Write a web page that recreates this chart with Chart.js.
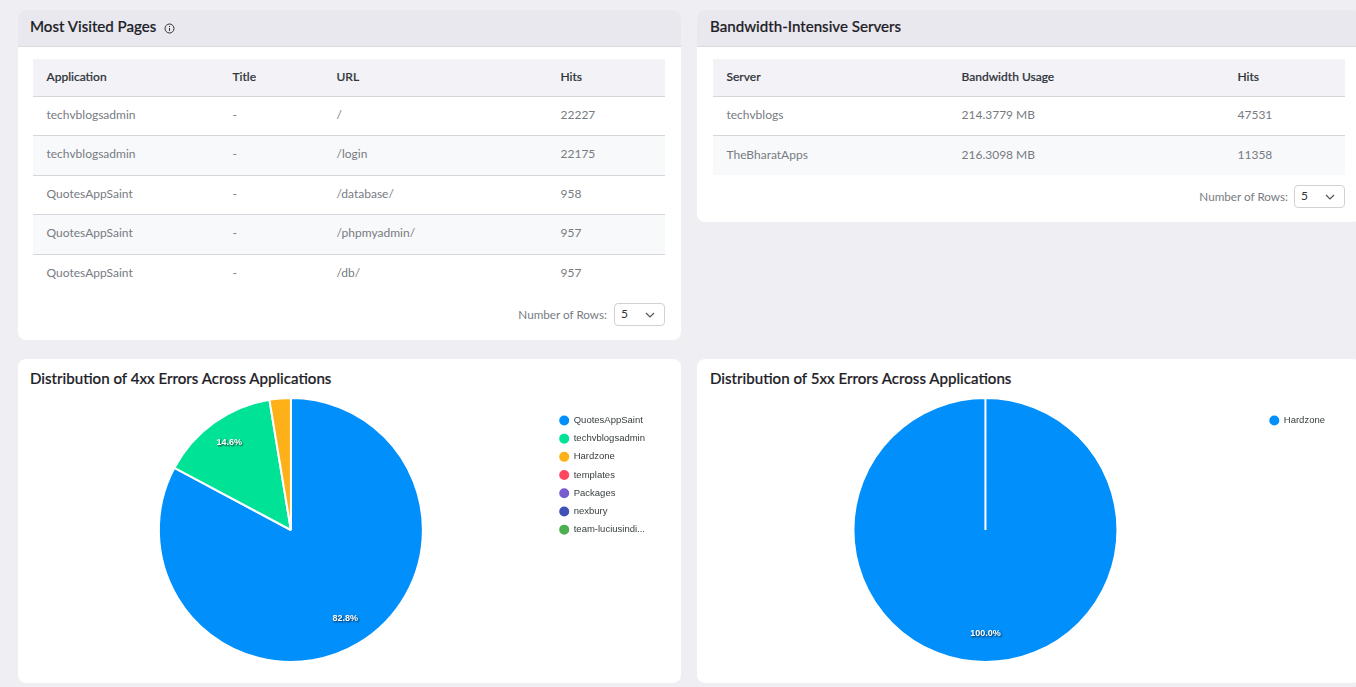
<!DOCTYPE html>
<html lang="en">
<head>
<meta charset="UTF-8" />
<title>Dashboard</title>
<script src="https://cdn.jsdelivr.net/npm/chart.js"></script>
<style>
  html, body { margin: 0; padding: 0; width: 1356px; height: 687px; overflow: hidden; background: #eeeef3; font-family: Lato, Arial, sans-serif; }
  .card { position: absolute; background: #fff; border-radius: 8px; overflow: hidden; }
  .card-head { height: 36px; background: #e9e8ee; border-bottom: 1px solid #d9d9de; }
  .card-title { position: absolute; top: 8px; font-size: 15.1px; font-weight: 500; color: #1d2127; white-space: nowrap; -webkit-text-stroke: 0.2px #1d2127; }
  table { position: absolute; top: 49px; border-collapse: collapse; table-layout: fixed; font-size: 12px; color: #777b82; }
  th { height: 37px; background: #f2f2f7; color: #30343a; font-weight: 500; text-align: left; padding: 0 0 2px 13.5px; box-sizing: border-box; border-bottom: 1px solid #d4d6db; -webkit-text-stroke: 0.2px #30343a; }
  td { height: 39.5px; padding: 0 0 3px 13.5px; box-sizing: border-box; border-bottom: 1px solid #d4d6db; }
  tr:nth-child(even) td { background: #f8f9fb; }
  tr:last-child td { border-bottom: none; }
  .rows-label { position: absolute; font-size: 11.7px; color: #777b82; white-space: nowrap; }
  .rows-select { position: absolute; width: 49px; height: 21px; border: 1px solid #d0d2d8; border-radius: 4px; font-size: 12px; color: #30343a; line-height: 20px; text-indent: 6px; }
  .rows-select svg { position: absolute; right: 9px; top: 8px; }
  canvas { position: absolute; }
</style>
</head>
<body>

<div class="card" style="left:18px;top:10px;width:663px;height:330px">
  <div class="card-head"></div>
  <div class="card-title" style="left:12px;top:7px">Most Visited Pages
    <svg width="11" height="11" viewBox="0 0 11 11" style="margin-left:4px;vertical-align:-2px"><circle cx="5.5" cy="5.5" r="4.5" fill="none" stroke="#333" stroke-width="1"/><path d="M5.5 5v3M5.5 3v1" stroke="#333" stroke-width="1"/></svg>
  </div>
  <table id="pagesTable" style="left:15px;width:632px"></table>
  <div class="rows-label" style="right:74px;top:297px">Number of Rows:</div>
  <div class="rows-select" style="left:596px;top:293px">5<svg width="10" height="6" viewBox="0 0 10 6"><path d="M1 1l4 4 4-4" fill="none" stroke="#555" stroke-width="1.2"/></svg></div>
</div>

<div class="card" style="left:697px;top:10px;width:664px;height:212px">
  <div class="card-head"></div>
  <div class="card-title" style="left:13px;top:7px">Bandwidth-Intensive Servers</div>
  <table id="serversTable" style="left:16px;width:632px"></table>
  <div class="rows-label" style="right:73px;top:179px">Number of Rows:</div>
  <div class="rows-select" style="left:597px;top:175px">5<svg width="10" height="6" viewBox="0 0 10 6"><path d="M1 1l4 4 4-4" fill="none" stroke="#555" stroke-width="1.2"/></svg></div>
</div>

<div class="card" style="left:18px;top:359px;width:663px;height:324px">
  <div class="card-title" style="left:12px;top:10px">Distribution of 4xx Errors Across Applications</div>
  <canvas id="chart4xx" style="left:0;top:33px"></canvas>
</div>

<div class="card" style="left:697px;top:359px;width:664px;height:324px">
  <div class="card-title" style="left:13px;top:10px">Distribution of 5xx Errors Across Applications</div>
  <canvas id="chart5xx" style="left:0;top:33px"></canvas>
</div>

<script>
const pageCols = ["Application", "Title", "URL", "Hits"];
const pageWidths = [186, 104, 224, 118];
const pageApps = ["techvblogsadmin", "techvblogsadmin", "QuotesAppSaint", "QuotesAppSaint", "QuotesAppSaint"];
const pageTitles = ["-", "-", "-", "-", "-"];
const pageUrls = ["/", "/login", "/database/", "/phpmyadmin/", "/db/"];
const pageHits = [22227, 22175, 958, 957, 957];

const serverCols = ["Server", "Bandwidth Usage", "Hits"];
const serverWidths = [235, 276, 121];
const serverNames = ["techvblogs", "TheBharatApps"];
const serverUsage = ["214.3779 MB", "216.3098 MB"];
const serverHits = [47531, 11358];

const labels4xx = ["QuotesAppSaint", "techvblogsadmin", "Hardzone", "templates", "Packages", "nexbury", "team-luciusindi..."];
const values4xx = [82.8, 14.6, 2.6, 0, 0, 0, 0];
const labels5xx = ["Hardzone"];
const values5xx = [100];
const palette = ["#008ffb", "#00e396", "#feb019", "#ff4560", "#775dd0", "#3f51b5", "#4caf50"];

function fillTable(id, cols, widths, columns) {
  const table = document.getElementById(id);
  let html = "<colgroup>" + widths.map(w => `<col style="width:${w}px">`).join("") + "</colgroup>";
  html += "<thead><tr>" + cols.map(c => `<th>${c}</th>`).join("") + "</tr></thead><tbody>";
  columns[0].forEach((_, r) => {
    html += "<tr>" + columns.map(c => `<td>${c[r]}</td>`).join("") + "</tr>";
  });
  table.innerHTML = html + "</tbody>";
}
fillTable("pagesTable", pageCols, pageWidths, [pageApps, pageTitles, pageUrls, pageHits]);
fillTable("serversTable", serverCols, serverWidths, [serverNames, serverUsage, serverHits]);

// percent labels inside the big slices, same look as the dashboard
const sliceLabels = {
  id: "sliceLabels",
  afterDatasetsDraw(chart) {
    const ctx = chart.ctx;
    const data = chart.data.datasets[0].data;
    const total = data.reduce((a, b) => a + b, 0);
    chart.getDatasetMeta(0).data.forEach((arc, i) => {
      const share = data[i] / total * 100;
      if (share < 5) return;
      const mid = (arc.startAngle + arc.endAngle) / 2;
      const x = arc.x + Math.cos(mid) * arc.outerRadius * 0.8;
      const y = arc.y + Math.sin(mid) * arc.outerRadius * 0.8 - 2;
      ctx.save();
      ctx.font = "bold 9px 'Liberation Sans'";
      ctx.textAlign = "center";
      ctx.textBaseline = "middle";
      ctx.fillStyle = "#fff";
      ctx.shadowColor = "rgba(0,0,0,0.75)";
      ctx.shadowBlur = 2;
      ctx.shadowOffsetX = 1;
      ctx.shadowOffsetY = 1;
      ctx.fillText(share.toFixed(1) + "%", x, y);
      ctx.restore();
    });
  }
};

function drawPie(id, labels, values, width, padding) {
  const canvas = document.getElementById(id);
  canvas.style.width = width + "px";
  canvas.style.height = "276px";
  canvas.width = width;
  canvas.height = 276;
  return new Chart(canvas, {
    type: "pie",
    data: { labels, datasets: [{ data: values, backgroundColor: palette, borderColor: "#fff", borderWidth: 2, hoverOffset: 0 }] },
    options: {
      responsive: false,
      animation: false,
      layout: { padding },
      plugins: {
        tooltip: { enabled: false },
        legend: {
          position: "right",
          align: "start",
          // empty title only pushes the items down
          title: { display: true, text: "", font: { size: 5 }, padding: 2 },
          labels: { usePointStyle: true, boxHeight: 8.5, padding: 8.7, color: "#373d3f", font: { family: "'Liberation Sans'", size: 9.5 } }
        }
      }
    },
    plugins: [sliceLabels]
  });
}
drawPie("chart4xx", labels4xx, values4xx, 663, { left: 13, right: 26, top: 5, bottom: 5 });
drawPie("chart5xx", labels5xx, values5xx, 664, { left: 13, right: 26, top: 5, bottom: 5 });
</script>
</body>
</html>
